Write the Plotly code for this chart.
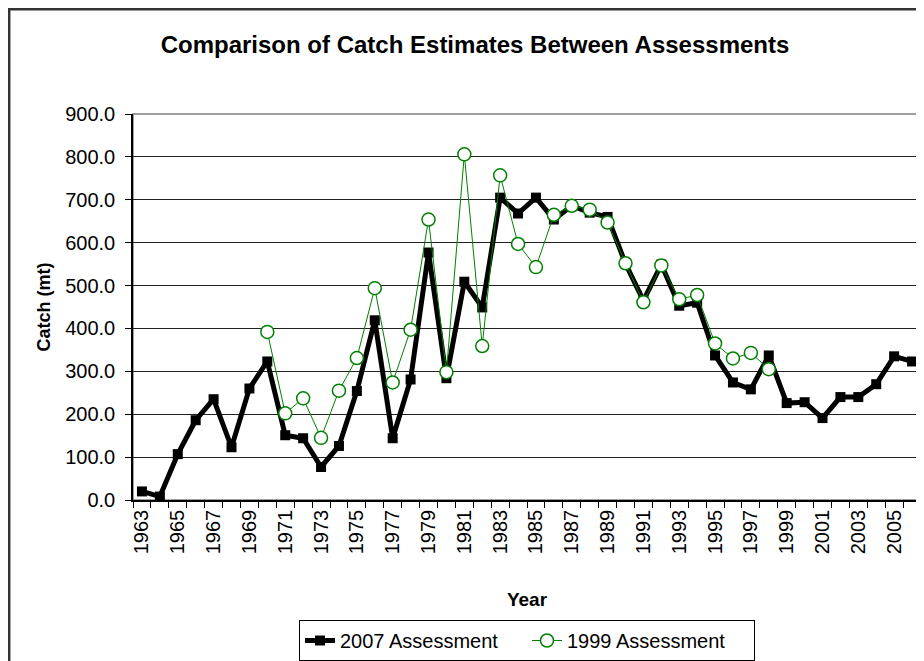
import plotly.graph_objects as go

# --- data ---
years_2007 = list(range(1963, 2007))
catch_2007 = [20, 8, 107, 186, 235, 123, 260, 323, 151, 144,
              77, 126, 254, 419, 144, 281, 577, 284, 509, 449,
              705, 668, 705, 654, 686, 670, 660, 551, 465, 549,
              453, 460, 337, 274, 258, 337, 226, 228, 191, 240,
              240, 270, 335, 323]

years_1999 = list(range(1970, 1999))
catch_1999 = [392, 202, 237, 145, 255, 331, 494, 274, 397, 654,
              298, 806, 359, 757, 597, 543, 665, 686, 677, 647,
              552, 461, 547, 468, 478, 365, 330, 343, 305]

label_years = list(range(1963, 2006, 2))
y_ticks = [0, 100, 200, 300, 400, 500, 600, 700, 800, 900]

FONT = "Arial, Liberation Sans, sans-serif"

# the page body adds an 8px margin, so the figure is sized to fit inside it
W, H = 916, 653
L, R, T, B = 125, 3, 106, 161
PW, PH = W - L - R, H - T - B

fig = go.Figure()
fig.add_trace(go.Scatter(
    x=years_2007, y=catch_2007, name="2007 Assessment", mode="lines+markers",
    line=dict(color="black", width=5),
    marker=dict(symbol="square", size=10, color="black"),
))
fig.add_trace(go.Scatter(
    x=years_1999, y=catch_1999, name="1999 Assessment", mode="lines+markers",
    line=dict(color="#008000", width=1),
    marker=dict(symbol="circle", size=13, color="white",
                line=dict(color="#008000", width=1.5)),
))

# plot border (grey) and outer chart border (dark)
fig.add_shape(type="rect", xref="paper", yref="paper", x0=0, x1=1, y0=0, y1=1,
              line=dict(color="#808080", width=1.5), layer="below")
fig.add_shape(type="rect", xref="paper", yref="paper",
              x0=(1.2 - L) / PW, x1=1.2, y0=-0.6, y1=(T + PH - 1.2) / PH,
              line=dict(color="#333333", width=2.5))

fig.update_layout(
    width=W, height=H,
    margin=dict(l=L, r=R, t=T, b=B, autoexpand=False),
    paper_bgcolor="white", plot_bgcolor="white",
    font=dict(family=FONT, color="black", size=20),
    title=dict(text="<b>Comparison of Catch Estimates Between Assessments</b>",
               x=(475 - 8) / W, y=1 - (45 - 8) / H, xanchor="center", yanchor="middle",
               font=dict(size=24, family=FONT, color="black")),
    legend=dict(orientation="h", x=(527 - 8 - L) / PW, xanchor="center",
                y=(T + PH - (620 - 8)) / PH, yanchor="top",
                bordercolor="black", borderwidth=1, font=dict(size=20),
                traceorder="normal", tracegroupgap=0, entrywidth=182),
)

fig.update_xaxes(
    range=[1962.5, 2006.5], tickmode="array", tickvals=label_years,
    ticktext=[str(y) for y in label_years], tickangle=-90, ticks="",
    tickfont=dict(size=20), showgrid=False, zeroline=False, automargin=False,
    showline=True, linecolor="black", linewidth=1.5,
    minor=dict(ticks="outside", tick0=1962.5, dtick=1, ticklen=6,
               tickcolor="black", showgrid=False),
    title=dict(text="<b>Year</b>", font=dict(size=19), standoff=39),
)
fig.update_yaxes(
    range=[0, 900], tickmode="array", tickvals=y_ticks, tickformat=".1f",
    ticks="outside", ticklen=6, tickcolor="black", tickfont=dict(size=20),
    ticklabelstandoff=6, automargin=False,
    showgrid=True, gridcolor="#222222", gridwidth=1, zeroline=False,
    showline=True, linecolor="black", linewidth=1.5,
    title=dict(text="<b>Catch (mt)</b>", font=dict(size=18), standoff=10),
)

fig.write_html("out.html")
